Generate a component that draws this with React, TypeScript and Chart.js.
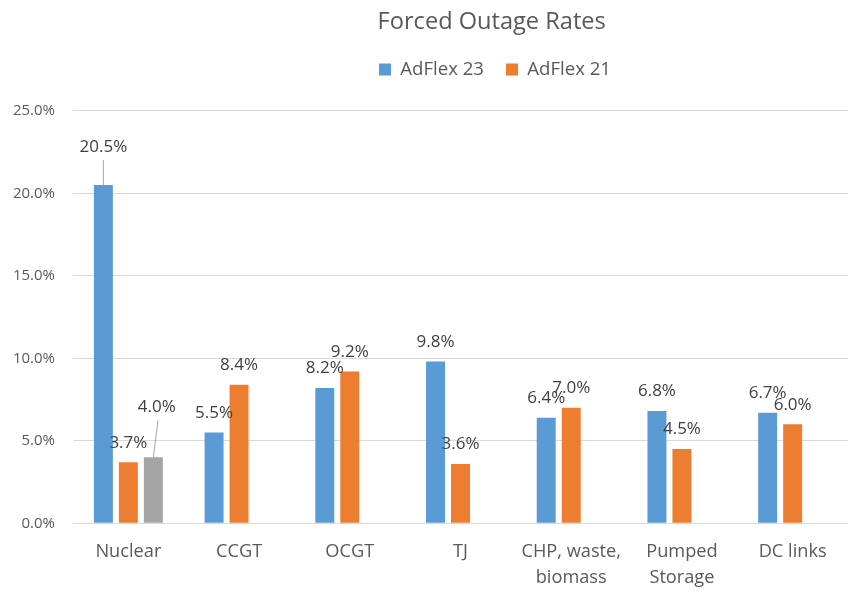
import React, { useEffect, useRef } from "react";
import { Chart, registerables } from "chart.js";

Chart.register(...registerables);

const FONT = "'Open Sans', sans-serif";

const categories: (string | string[])[] = [
  "Nuclear",
  "CCGT",
  "OCGT",
  "TJ",
  ["CHP, waste,", "biomass"],
  ["Pumped", "Storage"],
  "DC links",
];
const adflex23 = [20.5, 5.5, 8.2, 9.8, 6.4, 6.8, 6.7];
const adflex21 = [3.7, 8.4, 9.2, 3.6, 7.0, 4.5, 6.0];
const nuclearExtra: (number | null)[] = [4.0, null, null, null, null, null, null];

const seriesNames = ["AdFlex 23", "AdFlex 21", ""];
const seriesColors = ["#5B9BD5", "#ED7D31", "#A5A5A5"];

const titleText = "Forced Outage Rates";

const valueLabelsPlugin = {
  id: "valueLabels",
  afterDatasetsDraw(chart: any, _args: any, opts: any) {
    const ctx = chart.ctx;
    ctx.save();
    ctx.font = `${opts.size}px ${FONT}`;
    ctx.fillStyle = opts.color;
    ctx.textAlign = "center";
    ctx.textBaseline = "middle";
    chart.data.datasets.forEach((ds: any, di: number) => {
      const meta = chart.getDatasetMeta(di);
      if (meta.hidden) return;
      meta.data.forEach((el: any, i: number) => {
        const v = ds.data[i];
        if (v == null) return;
        const o = (opts.offsets && opts.offsets[`${di}-${i}`]) || {};
        const x = el.x + (o.dx || 0);
        const y = el.y - opts.gap + (o.dy || 0);
        ctx.fillText(v.toFixed(1) + "%", x, y);
        if (o.leader) {
          ctx.beginPath();
          ctx.strokeStyle = opts.leaderColor;
          ctx.lineWidth = 1;
          ctx.moveTo(x + (o.lx || 0), y + 13.5);
          ctx.lineTo(el.x, el.y);
          ctx.stroke();
        }
      });
    });
    ctx.restore();
  },
};

const layoutTweakPlugin = {
  id: "layoutTweak",
  beforeInit(chart: any, _args: any, opts: any) {
    const lg = chart.legend;
    if (lg && !lg.__patched) {
      const orig = lg.fit;
      lg.fit = function () {
        orig.call(this);
        this.height = opts.legendHeight;
      };
      lg.__patched = true;
    }
  },
  afterLayout(chart: any, _args: any, opts: any) {
    const t = chart.titleBlock;
    if (t) {
      t.left += opts.titleShift;
      t.right += opts.titleShift;
    }
    const lg = chart.legend;
    if (lg) {
      lg.left += opts.legendShift;
      lg.right += opts.legendShift;
    }
  },
};

export default function App() {
  const ref = useRef<HTMLCanvasElement | null>(null);

  useEffect(() => {
    if (!ref.current) return;
    const chart = new Chart(ref.current, {
      type: "bar",
      data: {
        labels: categories as any,
        datasets: [
          { label: seriesNames[0], data: adflex23, backgroundColor: seriesColors[0] },
          { label: seriesNames[1], data: adflex21, backgroundColor: seriesColors[1] },
          { label: seriesNames[2], data: nuclearExtra as any, backgroundColor: seriesColors[2] },
        ],
      },
      options: {
        animation: false,
        responsive: false,
        maintainAspectRatio: false,
        datasets: {
          bar: { categoryPercentage: 0.677, barPercentage: 0.76 },
        },
        layout: { padding: { left: 0, right: 0, top: 0, bottom: 0 } },
        plugins: {
          title: {
            display: true,
            text: titleText,
            color: "#595959",
            font: { family: FONT, size: 23.6, weight: "normal" as any },
            padding: { top: 8, bottom: 2 },
          },
          legend: {
            display: true,
            position: "top",
            labels: {
              color: "#595959",
              font: { family: FONT, size: 18.6 },
              boxWidth: 12,
              boxHeight: 12,
              padding: 22,
              filter: (item: any) => item.text !== "",
            },
          },
          tooltip: { enabled: false },
          valueLabels: {
            size: 17,
            color: "#404040",
            gap: 19.5,
            leaderColor: "#A6A6A6",
            offsets: {
              "0-0": { dy: -18.9, leader: true, lx: 0 },
              "2-0": { dx: 3.5, dy: -31, leader: true, lx: 1.2 },
            },
          },
          layoutTweak: { legendHeight: 72.5, titleShift: 67.7, legendShift: 71 },
        } as any,
        scales: {
          x: {
            grid: { display: false, drawTicks: false, tickLength: 0 },
            border: { display: false },
            ticks: {
              color: "#595959",
              font: { family: FONT, size: 18.2, lineHeight: 1.4 },
              padding: 16,
              maxRotation: 0,
              autoSkip: false,
            },
            afterFit: (s: any) => {
              s.height = 71.7;
            },
          },
          y: {
            min: 0,
            max: 25,
            grid: { color: "#D9D9D9", lineWidth: 1, drawTicks: false, tickLength: 0 },
            border: { display: false },
            ticks: {
              stepSize: 5,
              color: "#595959",
              font: { family: FONT, size: 15 },
              padding: 18,
              callback: (v: any) => Number(v).toFixed(1) + "%",
            },
            afterFit: (s: any) => {
              s.width = 73;
            },
          },
        },
      },
      plugins: [valueLabelsPlugin as any, layoutTweakPlugin as any],
    });
    return () => chart.destroy();
  }, []);

  return (
    <div style={{ position: "fixed", left: 0, top: 0, width: 848, height: 595, background: "#fff" }}>
      <canvas ref={ref} width={848} height={595} style={{ display: "block" }} />
    </div>
  );
}
